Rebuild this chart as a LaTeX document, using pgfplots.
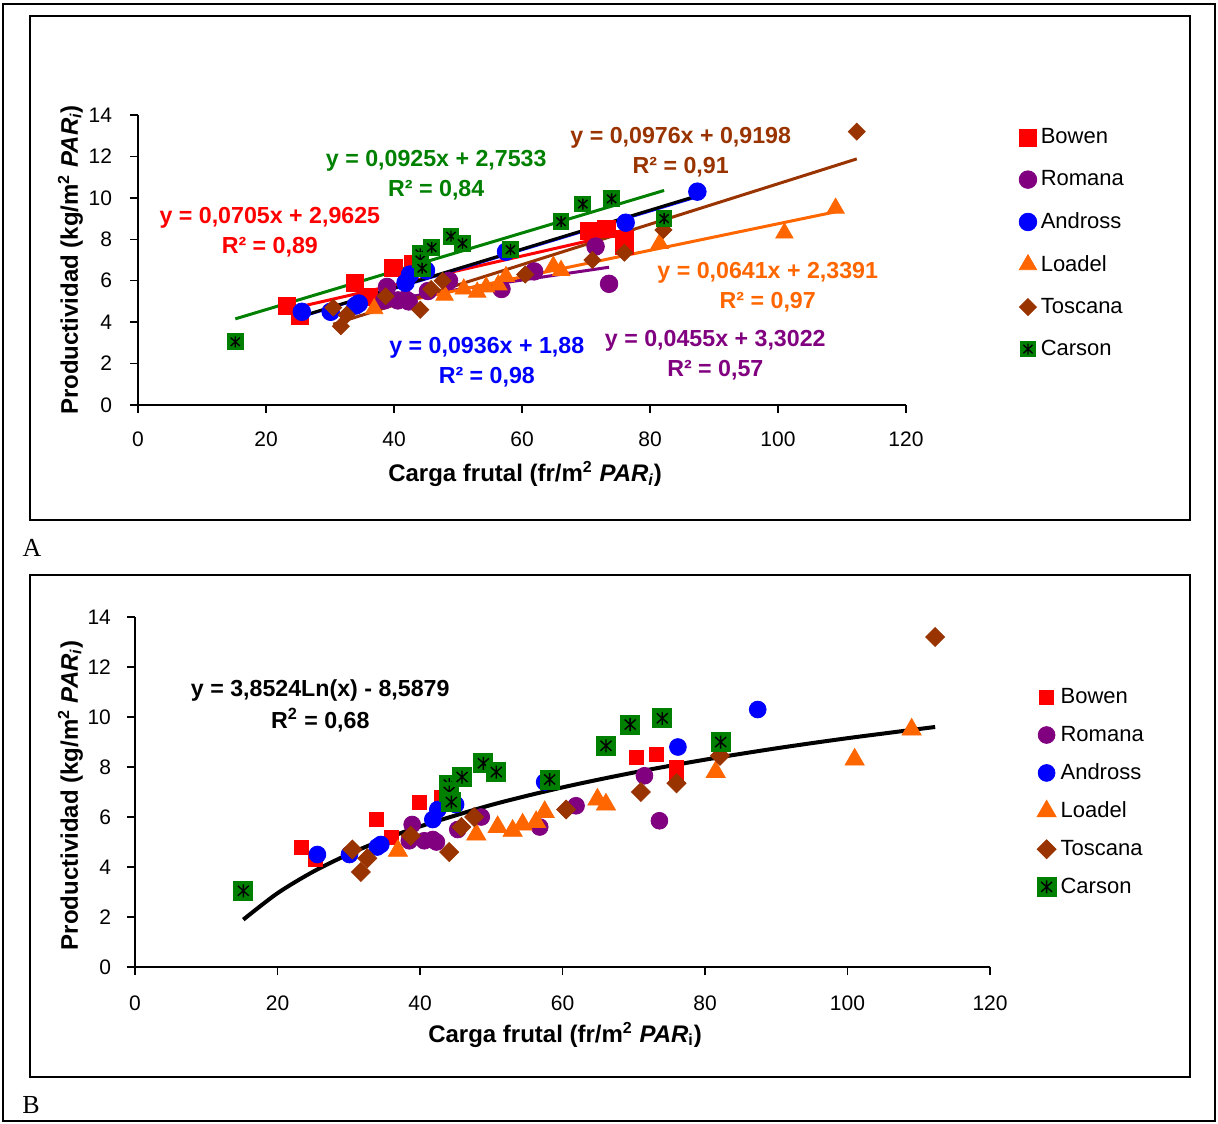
\documentclass[border=0pt]{standalone}
\usepackage{pgfplots}
\pgfplotsset{compat=1.18}
\usepackage{pgfplotstable}
\usepackage{fontspec}
\setmainfont{Liberation Sans}
\newfontfamily\serifA{Liberation Serif}
\definecolor{cred}{RGB}{255,0,0}
\definecolor{cpurple}{RGB}{128,0,128}
\definecolor{cblue}{RGB}{0,0,255}
\definecolor{corange}{RGB}{255,102,0}
\definecolor{cbrown}{RGB}{153,51,0}
\definecolor{cgreen}{RGB}{0,128,0}

\pgfdeclareplotmark{carson}{%
  \pgfsetfillcolor{cgreen}%
  \pgfpathrectangle{\pgfpoint{-\pgfplotmarksize}{-\pgfplotmarksize}}{\pgfpoint{2\pgfplotmarksize}{2\pgfplotmarksize}}%
  \pgfusepathqfill
  \pgfsetstrokecolor{black}%
  \pgfsetlinewidth{0.7pt}%
  \pgfpathmoveto{\pgfpoint{0pt}{-0.65\pgfplotmarksize}}%
  \pgfpathlineto{\pgfpoint{0pt}{0.65\pgfplotmarksize}}%
  \pgfpathmoveto{\pgfpoint{-0.55\pgfplotmarksize}{-0.5\pgfplotmarksize}}%
  \pgfpathlineto{\pgfpoint{0.55\pgfplotmarksize}{0.5\pgfplotmarksize}}%
  \pgfpathmoveto{\pgfpoint{-0.55\pgfplotmarksize}{0.5\pgfplotmarksize}}%
  \pgfpathlineto{\pgfpoint{0.55\pgfplotmarksize}{-0.5\pgfplotmarksize}}%
  \pgfusepathqstroke
}

\pgfplotstableread{
x y
23.3 4.8
25.3 4.3
33.9 5.9
36.0 5.2
39.9 6.6
43.0 6.8
70.4 8.4
73.2 8.5
76.0 8.0
76.0 7.7
}\bowen
\pgfplotstableread{
x y
38.9 5.7
38.5 5.05
40.6 5.05
41.8 5.1
42.3 5.0
45.3 5.5
48.6 6.0
56.8 5.6
61.9 6.45
71.5 7.65
73.6 5.85
}\romana
\pgfplotstableread{
x y
25.6 4.5
30.1 4.5
34.0 4.8
34.5 4.9
41.8 5.9
42.5 6.3
45.0 6.5
57.5 7.4
76.2 8.8
87.4 10.3
}\andross
\pgfplotstableread{
x y
36.9 4.65
47.9 5.3
50.9 5.6
53.0 5.45
54.4 5.7
56.3 5.8
57.5 6.2
64.9 6.7
66.1 6.5
81.5 7.8
101.0 8.3
109.0 9.5
}\loadel
\pgfplotstableread{
x y
30.5 4.7
31.7 3.8
32.6 4.35
38.7 5.25
44.1 4.6
45.8 5.6
47.6 6.0
60.5 6.3
71.0 7.0
76.0 7.35
82.1 8.45
112.3 13.2
}\toscana
\pgfplotstableread{
x y
15.2 3.05
44.1 7.3
44.1 7.0
44.4 6.6
45.9 7.6
48.9 8.15
50.7 7.8
58.2 7.5
66.1 8.85
69.5 9.7
74.0 9.95
82.2 9.0
}\carson

\pgfplotsset{
  panel/.style={
    scale only axis, clip=false,
    xmin=0, xmax=120, ymin=0, ymax=14,
    xtick={0,20,...,120}, ytick={0,2,...,14},
    axis lines=left, axis line style={-, line width=0.7pt},
    tick style={black, line width=0.7pt},
    major tick length=4pt, tick align=outside,
    /pgf/number format/assume math mode=true,
    ticklabel style={font=\fontsize{10.5}{12}\selectfont},
    legend cell align=left,
  },
}

\begin{document}
\begin{tikzpicture}
\path[use as bounding box] (0pt,0pt) rectangle (609pt,-561.5pt);
\draw[line width=1pt] (1.5pt,-2pt) rectangle (607.5pt,-560.5pt);
\draw[line width=1pt] (15pt,-8pt) rectangle (595pt,-260pt);
\draw[line width=1pt] (15pt,-287.5pt) rectangle (595pt,-538.5pt);
\node[font=\serifA\fontsize{13}{15}\selectfont] at (16pt,-274pt) {A};
\node[font=\serifA\fontsize{13}{15}\selectfont] at (15.5pt,-552.5pt) {B};

% ---------------- Panel A
\begin{axis}[panel,
  at={(69pt,-202.5pt)}, anchor=south west,
  width=384pt, height=145pt,
  xticklabel style={yshift=-6pt},
  yticklabel style={xshift=-5.5pt},
  xlabel={\textbf{Carga frutal (fr/m\textsuperscript{2} \textit{PAR\textsubscript{i}})}},
  ylabel={\textbf{Productividad (kg/m\textsuperscript{2} \textit{PAR\textsubscript{i}})}},
  xlabel style={at={(axis description cs:0.504,-0.238)}, anchor=center, font=\fontsize{12}{14}\selectfont},
  ylabel style={at={(axis description cs:-0.088,0.5)}, anchor=center, font=\fontsize{12}{14}\selectfont},
  legend style={draw=none, fill=none, at={(1.139,0.982)}, anchor=north west,
    font=\fontsize{11}{13}\selectfont, row sep=7.9pt},
]
\addplot[only marks, mark=square*, mark size=4.3pt, color=cred] table {\bowen};
\addlegendentry{Bowen}
\addplot[only marks, mark=*, mark size=4.4pt, color=cpurple] table {\romana};
\addlegendentry{Romana}
\addplot[only marks, mark=*, mark size=4.4pt, color=cblue] table {\andross};
\addlegendentry{Andross}
\addplot[only marks, mark=triangle*, mark size=5pt, color=corange] table {\loadel};
\addlegendentry{Loadel}
\addplot[only marks, mark=square*, mark size=3pt, mark options={rotate=45}, color=cbrown] table {\toscana};
\addlegendentry{Toscana}
\addplot[only marks, mark=carson, mark size=4.2pt] table {\carson};
\addlegendentry{Carson}
% trend lines
\addplot[forget plot, cred, line width=1.5pt] coordinates {(23.3,4.605) (76.0,8.321)};
\addplot[forget plot, cpurple, line width=1.5pt] coordinates {(38.5,5.054) (73.6,6.651)};
\addplot[forget plot, cblue, line width=1.5pt] coordinates {(25.6,4.276) (87.4,10.061)};
\addplot[forget plot, black, line width=1.5pt] coordinates {(26.0,4.33) (87.8,10.14)};
\addplot[forget plot, corange, line width=1.5pt] coordinates {(36.9,4.704) (109.0,9.326)};
\addplot[forget plot, cbrown, line width=1.5pt] coordinates {(30.5,3.897) (112.3,11.880)};
\addplot[forget plot, cgreen, line width=1.5pt] coordinates {(15.2,4.159) (82.2,10.357)};
% equations
\begin{scope}[every node/.style={font=\bfseries\fontsize{11.6}{15}\selectfont, align=center}]
\node[cgreen] at (axis cs:46.6,11.1) {y = 0,0925x + 2,7533\\R² = 0,84};
\node[cred] at (axis cs:20.6,8.35) {y = 0,0705x + 2,9625\\R² = 0,89};
\node[cbrown] at (axis cs:84.8,12.2) {y = 0,0976x + 0,9198\\R² = 0,91};
\node[corange] at (axis cs:98.4,5.7) {y = 0,0641x + 2,3391\\R² = 0,97};
\node[cblue] at (axis cs:54.5,2.08) {y = 0,0936x + 1,88\\R² = 0,98};
\node[cpurple] at (axis cs:90.2,2.41) {y = 0,0455x + 3,3022\\R² = 0,57};
\end{scope}
\end{axis}

% ---------------- Panel B
\begin{axis}[panel,
  at={(67.5pt,-483.5pt)}, anchor=south west,
  width=427.5pt, height=175pt,
  xticklabel style={yshift=-7pt},
  yticklabel style={xshift=-4.5pt},
  xlabel={\textbf{Carga frutal (fr/m\textsuperscript{2} \textit{PAR}\textsubscript{i})}},
  ylabel={\textbf{Productividad (kg/m\textsuperscript{2} \textit{PAR\textsubscript{i}})}},
  xlabel style={at={(axis description cs:0.503,-0.194)}, anchor=center, font=\fontsize{12}{14}\selectfont},
  ylabel style={at={(axis description cs:-0.0755,0.49)}, anchor=center, font=\fontsize{12}{14}\selectfont},
  legend style={draw=none, fill=none, at={(1.047,0.82)}, anchor=north west,
    font=\fontsize{11}{13}\selectfont, row sep=5.7pt},
]
\addplot[only marks, mark=square*, mark size=3.5pt, color=cred] table {\bowen};
\addlegendentry{Bowen}
\addplot[only marks, mark=*, mark size=4.2pt, color=cpurple] table {\romana};
\addlegendentry{Romana}
\addplot[only marks, mark=*, mark size=4.2pt, color=cblue] table {\andross};
\addlegendentry{Andross}
\addplot[only marks, mark=triangle*, mark size=5.5pt, color=corange] table {\loadel};
\addlegendentry{Loadel}
\addplot[only marks, mark=square*, mark size=3.35pt, mark options={rotate=45}, color=cbrown] table {\toscana};
\addlegendentry{Toscana}
\addplot[only marks, mark=carson, mark size=5pt] table {\carson};
\addlegendentry{Carson}
\addplot[forget plot, black, line width=2pt, smooth] coordinates {
(15.2,1.896) (20,2.953) (25,3.813) (30,4.515) (35,5.109) (40,5.623)
(50,6.483) (60,7.185) (70,7.779) (80,8.293) (90,8.747) (100,9.153) (112.3,9.602)};
\node[font=\bfseries\fontsize{11.6}{16}\selectfont, align=center] at (axis cs:26.0,10.44) {y = 3,8524Ln(x) - 8,5879\\R\textsuperscript{2} = 0,68};
\end{axis}
\end{tikzpicture}
\end{document}
